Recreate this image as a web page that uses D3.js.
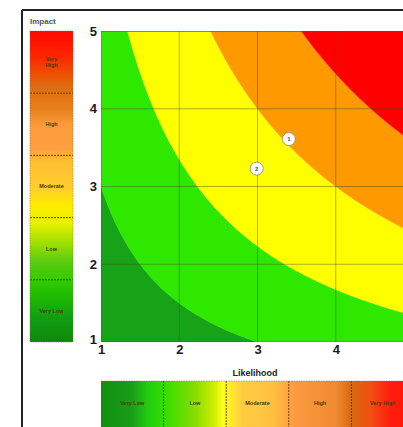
<!DOCTYPE html>
<html>
<head>
<meta charset="utf-8">
<script src="https://cdn.jsdelivr.net/npm/d3@7"></script>
<style>
  body { margin: 0; background: #fff; }
  svg { display: block; font-family: "Liberation Sans", Arial, sans-serif; }
</style>
</head>
<body>
<svg id="chart" width="403" height="427"></svg>
<script>
// risk bands: likelihood x impact score thresholds and fills
var bandBreaks = [0, 3, 6.7, 12, 17.8, 30];
var bandColors = ['#17a317', '#2ee800', '#ffff00', '#ff9900', '#ff0000'];

// axis ticks
var tickValues = [1, 2, 3, 4, 5];

// scale legends
var impactLevels = ['Very High', 'High', 'Moderate', 'Low', 'Very Low'];
var likelihoodLevels = ['Very Low', 'Low', 'Moderate', 'High', 'Very High'];

// plotted risks
var riskIds = ['1', '2'];
var riskLikelihood = [3.40, 2.99];
var riskImpact = [3.61, 3.23];

var svg = d3.select('#chart');
var W = 403, H = 427;

// plot area
var plotL = 101, plotR = 414, plotT = 31, plotB = 342;

var x = d3.scaleLinear().domain([1, 5]).range([plotL, plotR]);
var y = d3.scaleLinear().domain([1, 5]).range([plotB, plotT]);

var defs = svg.append('defs');
defs.append('clipPath').attr('id', 'plotClip')
  .append('rect')
  .attr('x', plotL).attr('y', plotT)
  .attr('width', plotR - plotL).attr('height', plotB - plotT);

// gradients for the legend bars
var impactStops = [
  [0, '#ff0800'], [0.08, '#ff2400'], [0.13, '#f04a00'], [0.18, '#de6c10'],
  [0.25, '#e8801a'], [0.30, '#fb9a3a'], [0.38, '#fca040'], [0.42, '#ffc030'],
  [0.50, '#ffcc30'], [0.56, '#ffec00'], [0.62, '#e6f000'], [0.68, '#a0e000'],
  [0.74, '#5ccc10'], [0.80, '#33cc00'], [0.84, '#22c000'], [0.92, '#129e12'],
  [1, '#0b8a0b']
];
var likelihoodStops = [
  [0, '#0f8f0f'], [0.1, '#1a9e1a'], [0.15, '#22cc10'], [0.2, '#33dd00'],
  [0.3, '#88dd00'], [0.36, '#ccee00'], [0.39, '#ffff20'], [0.45, '#ffcc40'],
  [0.55, '#ffc040'], [0.62, '#fb9a40'], [0.75, '#f08a30'], [0.8, '#d86a10'],
  [0.86, '#f05010'], [0.92, '#ff2010'], [1, '#ff1000']
];

function addGradient(id, stops, vertical) {
  var g = defs.append('linearGradient').attr('id', id)
    .attr('x1', 0).attr('y1', 0)
    .attr('x2', vertical ? 0 : 1).attr('y2', vertical ? 1 : 0);
  g.selectAll('stop').data(stops).enter().append('stop')
    .attr('offset', function(d) { return d[0]; })
    .attr('stop-color', function(d) { return d[1]; });
}
addGradient('impactGrad', impactStops, true);
addGradient('likelihoodGrad', likelihoodStops, false);

// outer frame
svg.append('line').attr('x1', 22).attr('x2', W).attr('y1', 10).attr('y2', 10)
  .attr('stroke', '#222').attr('stroke-width', 2);
svg.append('line').attr('x1', 22).attr('x2', 22).attr('y1', 10).attr('y2', H)
  .attr('stroke', '#222').attr('stroke-width', 2);

// risk bands as areas between score contours
var plot = svg.append('g').attr('clip-path', 'url(#plotClip)');
var xs = d3.range(0, 401).map(function(i) { return 1 + i * 0.01; });
var clampY = function(v) { return Math.max(1, Math.min(5, v)); };

bandColors.forEach(function(color, i) {
  var lo = bandBreaks[i], hi = bandBreaks[i + 1];
  var area = d3.area()
    .x(function(d) { return x(d); })
    .y0(function(d) { return y(clampY(lo / d)); })
    .y1(function(d) { return y(clampY(hi / d)); });
  plot.append('path').datum(xs)
    .attr('d', area)
    .attr('fill', color)
    .attr('stroke', color)
    .attr('stroke-width', 0.5);
});

// grid
var grid = svg.append('g').attr('clip-path', 'url(#plotClip)');
grid.selectAll('.vg').data(tickValues).enter().append('line')
  .attr('x1', function(d) { return x(d); }).attr('x2', function(d) { return x(d); })
  .attr('y1', plotT).attr('y2', plotB)
  .attr('stroke', '#4a4a20').attr('stroke-opacity', 0.55).attr('stroke-width', 0.8);
grid.selectAll('.hg').data(tickValues).enter().append('line')
  .attr('y1', function(d) { return y(d); }).attr('y2', function(d) { return y(d); })
  .attr('x1', plotL).attr('x2', plotR)
  .attr('stroke', '#4a4a20').attr('stroke-opacity', 0.55).attr('stroke-width', 0.8);

// axes (x labels past the page edge are not drawn)
var xAxis = d3.axisBottom(x)
  .tickValues(tickValues.filter(function(d) { return x(d) < W - 6; }))
  .tickSize(0).tickPadding(3)
  .tickFormat(d3.format('d'));
var yAxis = d3.axisLeft(y).tickValues(tickValues).tickSize(0).tickPadding(4)
  .tickFormat(d3.format('d'));

svg.append('g').attr('transform', 'translate(0,' + plotB + ')').call(xAxis)
  .call(function(g) { g.select('.domain').remove(); })
  .selectAll('text')
  .attr('font-size', 13).attr('font-weight', 'bold').attr('fill', '#1a1a1a')
  .attr('font-family', '"Liberation Sans", Arial, sans-serif');

svg.append('g').attr('transform', 'translate(' + plotL + ',0)').call(yAxis)
  .call(function(g) { g.select('.domain').remove(); })
  .selectAll('text')
  .attr('font-size', 13).attr('font-weight', 'bold').attr('fill', '#1a1a1a')
  .attr('font-family', '"Liberation Sans", Arial, sans-serif')
  .attr('dy', function(d) { return d === 1 ? '0.1em' : '0.32em'; });

// risk markers
var risks = riskIds.map(function(id, i) {
  return { id: id, likelihood: riskLikelihood[i], impact: riskImpact[i] };
});
var marks = svg.append('g').selectAll('g').data(risks).enter().append('g')
  .attr('transform', function(d) { return 'translate(' + x(d.likelihood) + ',' + y(d.impact) + ')'; });
marks.append('circle').attr('r', 6.5)
  .attr('fill', '#fff').attr('stroke', '#8a8a70').attr('stroke-width', 0.8);
marks.append('text').text(function(d) { return d.id; })
  .attr('text-anchor', 'middle').attr('dy', '0.35em')
  .attr('font-size', 6).attr('font-weight', 'bold').attr('fill', '#3a4a80');

// impact legend bar (left)
var impactBand = d3.scaleBand().domain(impactLevels).range([plotT, plotB]);
var ib = svg.append('g');
ib.append('rect').attr('x', 30).attr('y', plotT).attr('width', 43).attr('height', plotB - plotT)
  .attr('fill', 'url(#impactGrad)');
ib.selectAll('.sep').data(impactLevels.slice(1)).enter().append('line')
  .attr('x1', 30).attr('x2', 73)
  .attr('y1', function(d) { return impactBand(d); }).attr('y2', function(d) { return impactBand(d); })
  .attr('stroke', '#5a3a10').attr('stroke-width', 0.9).attr('stroke-dasharray', '2,1');
ib.append('rect').attr('x', 30).attr('y', plotT).attr('width', 43).attr('height', plotB - plotT)
  .attr('fill', 'none').attr('stroke', '#8a6a40').attr('stroke-width', 0.5)
  .attr('stroke-dasharray', '1.5,1');
ib.selectAll('.lbl').data(impactLevels).enter().append('text')
  .attr('x', 51.5)
  .attr('y', function(d) { return impactBand(d) + impactBand.bandwidth() / 2; })
  .attr('text-anchor', 'middle')
  .attr('font-size', 5.5).attr('font-weight', 'bold').attr('fill', '#4a3a10')
  .each(function(d) {
    var t = d3.select(this);
    if (d === 'Very High') {
      t.append('tspan').attr('x', 51.5).attr('dy', '-0.2em').text('Very');
      t.append('tspan').attr('x', 51.5).attr('dy', '1.1em').text('High');
    } else {
      t.attr('dy', '0.35em').text(d);
    }
  });
svg.append('text').attr('x', 30).attr('y', 24).text('Impact')
  .attr('font-size', 8).attr('font-weight', 'bold').attr('fill', '#555');

// likelihood legend bar (bottom)
var likeBand = d3.scaleBand().domain(likelihoodLevels).range([plotL, plotR]);
var lb = svg.append('g');
lb.append('rect').attr('x', plotL).attr('y', 381).attr('width', plotR - plotL).attr('height', 60)
  .attr('fill', 'url(#likelihoodGrad)');
lb.selectAll('.sep').data(likelihoodLevels.slice(1)).enter().append('line')
  .attr('x1', function(d) { return likeBand(d); }).attr('x2', function(d) { return likeBand(d); })
  .attr('y1', 381).attr('y2', H)
  .attr('stroke', '#5a3a10').attr('stroke-width', 0.9).attr('stroke-dasharray', '2,1');
lb.append('line').attr('x1', plotL).attr('x2', plotR).attr('y1', 381).attr('y2', 381)
  .attr('stroke', '#8a6a40').attr('stroke-width', 0.5).attr('stroke-dasharray', '1.5,1');
lb.selectAll('.lbl').data(likelihoodLevels).enter().append('text')
  .attr('x', function(d) { return likeBand(d) + likeBand.bandwidth() / 2; })
  .attr('y', 405)
  .attr('text-anchor', 'middle')
  .attr('font-size', 5.5).attr('font-weight', 'bold').attr('fill', '#4a3a10')
  .text(function(d) { return d; });
svg.append('text').attr('x', 255).attr('y', 376).attr('text-anchor', 'middle')
  .text('Likelihood')
  .attr('font-size', 9).attr('font-weight', 'bold').attr('fill', '#222');
</script>
</body>
</html>
